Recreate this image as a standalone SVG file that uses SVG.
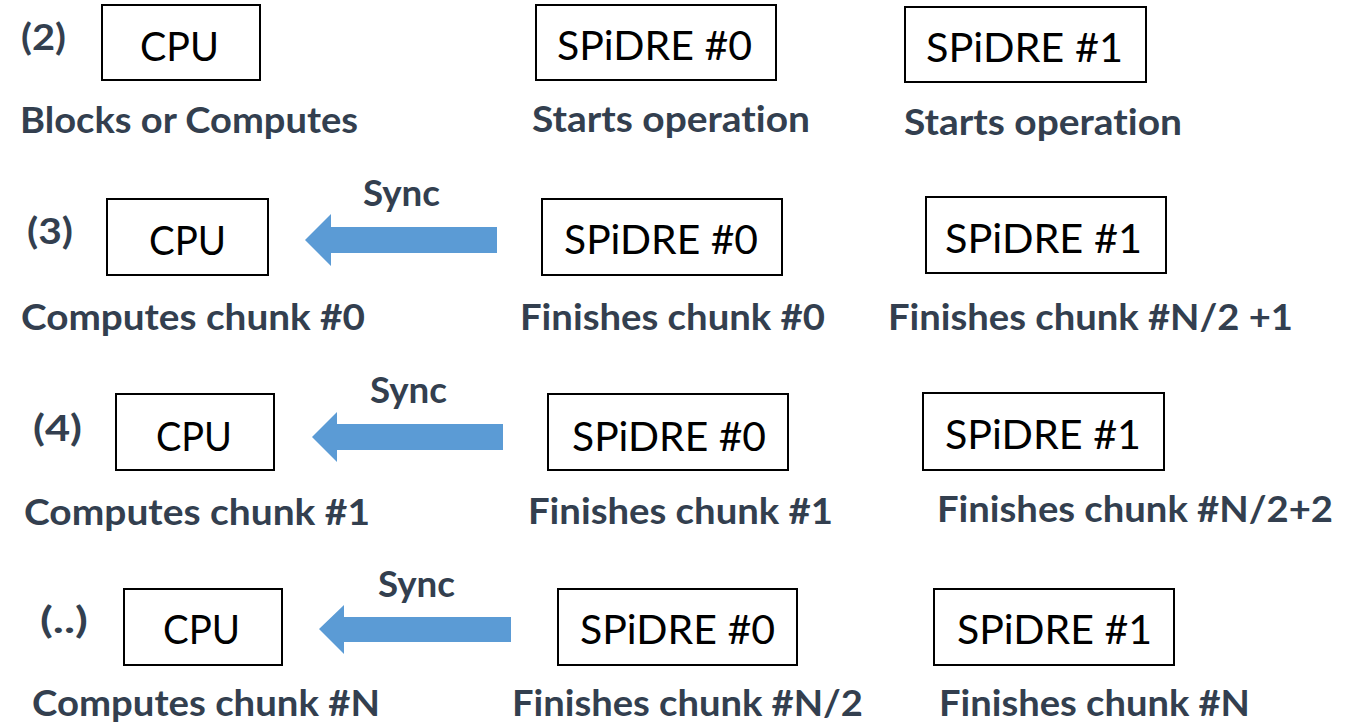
<svg xmlns="http://www.w3.org/2000/svg" width="1365" height="724" viewBox="0 0 1365 724">
  <style>
    .box { fill: #ffffff; stroke: #000000; stroke-width: 2; }
    .name { font-family: Lato, "Open Sans", "Liberation Sans", sans-serif; font-size: 41px; fill: #000000; font-variant-ligatures: none; }
    .lbl { font-family: Lato, "Open Sans", "Liberation Sans", sans-serif; font-size: 36px; font-weight: bold; fill: #333f4f; font-variant-ligatures: none; }
    .sync { fill: #5b9bd5; }
  </style>
  <rect width="1365" height="724" fill="#ffffff"/>

  <!-- step labels -->
  <g id="steps">
    <text class="lbl" x="21" y="50" textLength="45" lengthAdjust="spacingAndGlyphs">(2)</text>
    <text class="lbl" x="27" y="244" textLength="46" lengthAdjust="spacingAndGlyphs">(3)</text>
    <text class="lbl" x="33" y="441" textLength="49" lengthAdjust="spacingAndGlyphs">(4)</text>
    <text class="lbl" x="40" y="633" textLength="48" lengthAdjust="spacingAndGlyphs">(..)</text>
  </g>

  <!-- row (2) -->
  <g id="cpu-2">
    <rect class="box" x="102" y="5" width="158" height="75"/>
    <text class="name" x="140" y="61" textLength="79" lengthAdjust="spacingAndGlyphs">CPU</text>
    <text class="lbl" x="20" y="133" textLength="338" lengthAdjust="spacingAndGlyphs">Blocks or Computes</text>
  </g>
  <g id="spidre0-2">
    <rect class="box" x="536" y="5" width="240" height="75"/>
    <text class="name" x="557" y="60" textLength="195" lengthAdjust="spacingAndGlyphs">SPiDRE #0</text>
    <text class="lbl" x="532" y="132" textLength="278" lengthAdjust="spacingAndGlyphs">Starts operation</text>
  </g>
  <g id="spidre1-2">
    <rect class="box" x="905" y="7" width="241" height="75"/>
    <text class="name" x="926" y="62" textLength="197" lengthAdjust="spacingAndGlyphs">SPiDRE #1</text>
    <text class="lbl" x="904" y="135" textLength="278" lengthAdjust="spacingAndGlyphs">Starts operation</text>
  </g>

  <!-- row (3) -->
  <g id="cpu-3">
    <rect class="box" x="107" y="199" width="161" height="76"/>
    <text class="name" x="149" y="255" textLength="77" lengthAdjust="spacingAndGlyphs">CPU</text>
    <text class="lbl" x="21" y="330" textLength="344" lengthAdjust="spacingAndGlyphs">Computes chunk #0</text>
  </g>
  <g id="spidre0-3">
    <rect class="box" x="542" y="199" width="240" height="76"/>
    <text class="name" x="564" y="254" textLength="194" lengthAdjust="spacingAndGlyphs">SPiDRE #0</text>
    <text class="lbl" x="520" y="330" textLength="305" lengthAdjust="spacingAndGlyphs">Finishes chunk #0</text>
  </g>
  <g id="spidre1-3">
    <rect class="box" x="926" y="197" width="240" height="76"/>
    <text class="name" x="945" y="253" textLength="197" lengthAdjust="spacingAndGlyphs">SPiDRE #1</text>
    <text class="lbl" x="888" y="330" textLength="405" lengthAdjust="spacingAndGlyphs">Finishes chunk #N/2 +1</text>
  </g>

  <!-- row (4) -->
  <g id="cpu-4">
    <rect class="box" x="116" y="394" width="158" height="76"/>
    <text class="name" x="156" y="451" textLength="76" lengthAdjust="spacingAndGlyphs">CPU</text>
    <text class="lbl" x="24" y="525" textLength="346" lengthAdjust="spacingAndGlyphs">Computes chunk #1</text>
  </g>
  <g id="spidre0-4">
    <rect class="box" x="548" y="394" width="240" height="76"/>
    <text class="name" x="572" y="451" textLength="194" lengthAdjust="spacingAndGlyphs">SPiDRE #0</text>
    <text class="lbl" x="528" y="524" textLength="305" lengthAdjust="spacingAndGlyphs">Finishes chunk #1</text>
  </g>
  <g id="spidre1-4">
    <rect class="box" x="923" y="393" width="241" height="77"/>
    <text class="name" x="945" y="449" textLength="196" lengthAdjust="spacingAndGlyphs">SPiDRE #1</text>
    <text class="lbl" x="937" y="522" textLength="396" lengthAdjust="spacingAndGlyphs">Finishes chunk #N/2+2</text>
  </g>

  <!-- row (..) -->
  <g id="cpu-n">
    <rect class="box" x="124" y="589" width="158" height="76"/>
    <text class="name" x="163" y="644" textLength="77" lengthAdjust="spacingAndGlyphs">CPU</text>
    <text class="lbl" x="32" y="716" textLength="348" lengthAdjust="spacingAndGlyphs">Computes chunk #N</text>
  </g>
  <g id="spidre0-n">
    <rect class="box" x="558" y="589" width="239" height="76"/>
    <text class="name" x="580" y="644" textLength="195" lengthAdjust="spacingAndGlyphs">SPiDRE #0</text>
    <text class="lbl" x="512" y="716" textLength="351" lengthAdjust="spacingAndGlyphs">Finishes chunk #N/2</text>
  </g>
  <g id="spidre1-n">
    <rect class="box" x="934" y="589" width="240" height="76"/>
    <text class="name" x="957" y="644" textLength="195" lengthAdjust="spacingAndGlyphs">SPiDRE #1</text>
    <text class="lbl" x="939" y="716" textLength="311" lengthAdjust="spacingAndGlyphs">Finishes chunk #N</text>
  </g>

  <!-- sync arrows from SPiDRE #0 back to the CPU -->
  <g id="connectors">
    <path class="sync" d="M497,227 L331,227 L331,214 L305,240 L331,266 L331,253 L497,253 Z"/>
    <text class="lbl" x="363" y="206" textLength="77" lengthAdjust="spacingAndGlyphs">Sync</text>
    <path class="sync" d="M503,424 L337,424 L337,412 L312,437 L337,462 L337,450 L503,450 Z"/>
    <text class="lbl" x="370" y="403" textLength="77" lengthAdjust="spacingAndGlyphs">Sync</text>
    <path class="sync" d="M511,617 L344,617 L344,605 L319,629 L344,654 L344,642 L511,642 Z"/>
    <text class="lbl" x="378" y="597" textLength="77" lengthAdjust="spacingAndGlyphs">Sync</text>
  </g>
</svg>
